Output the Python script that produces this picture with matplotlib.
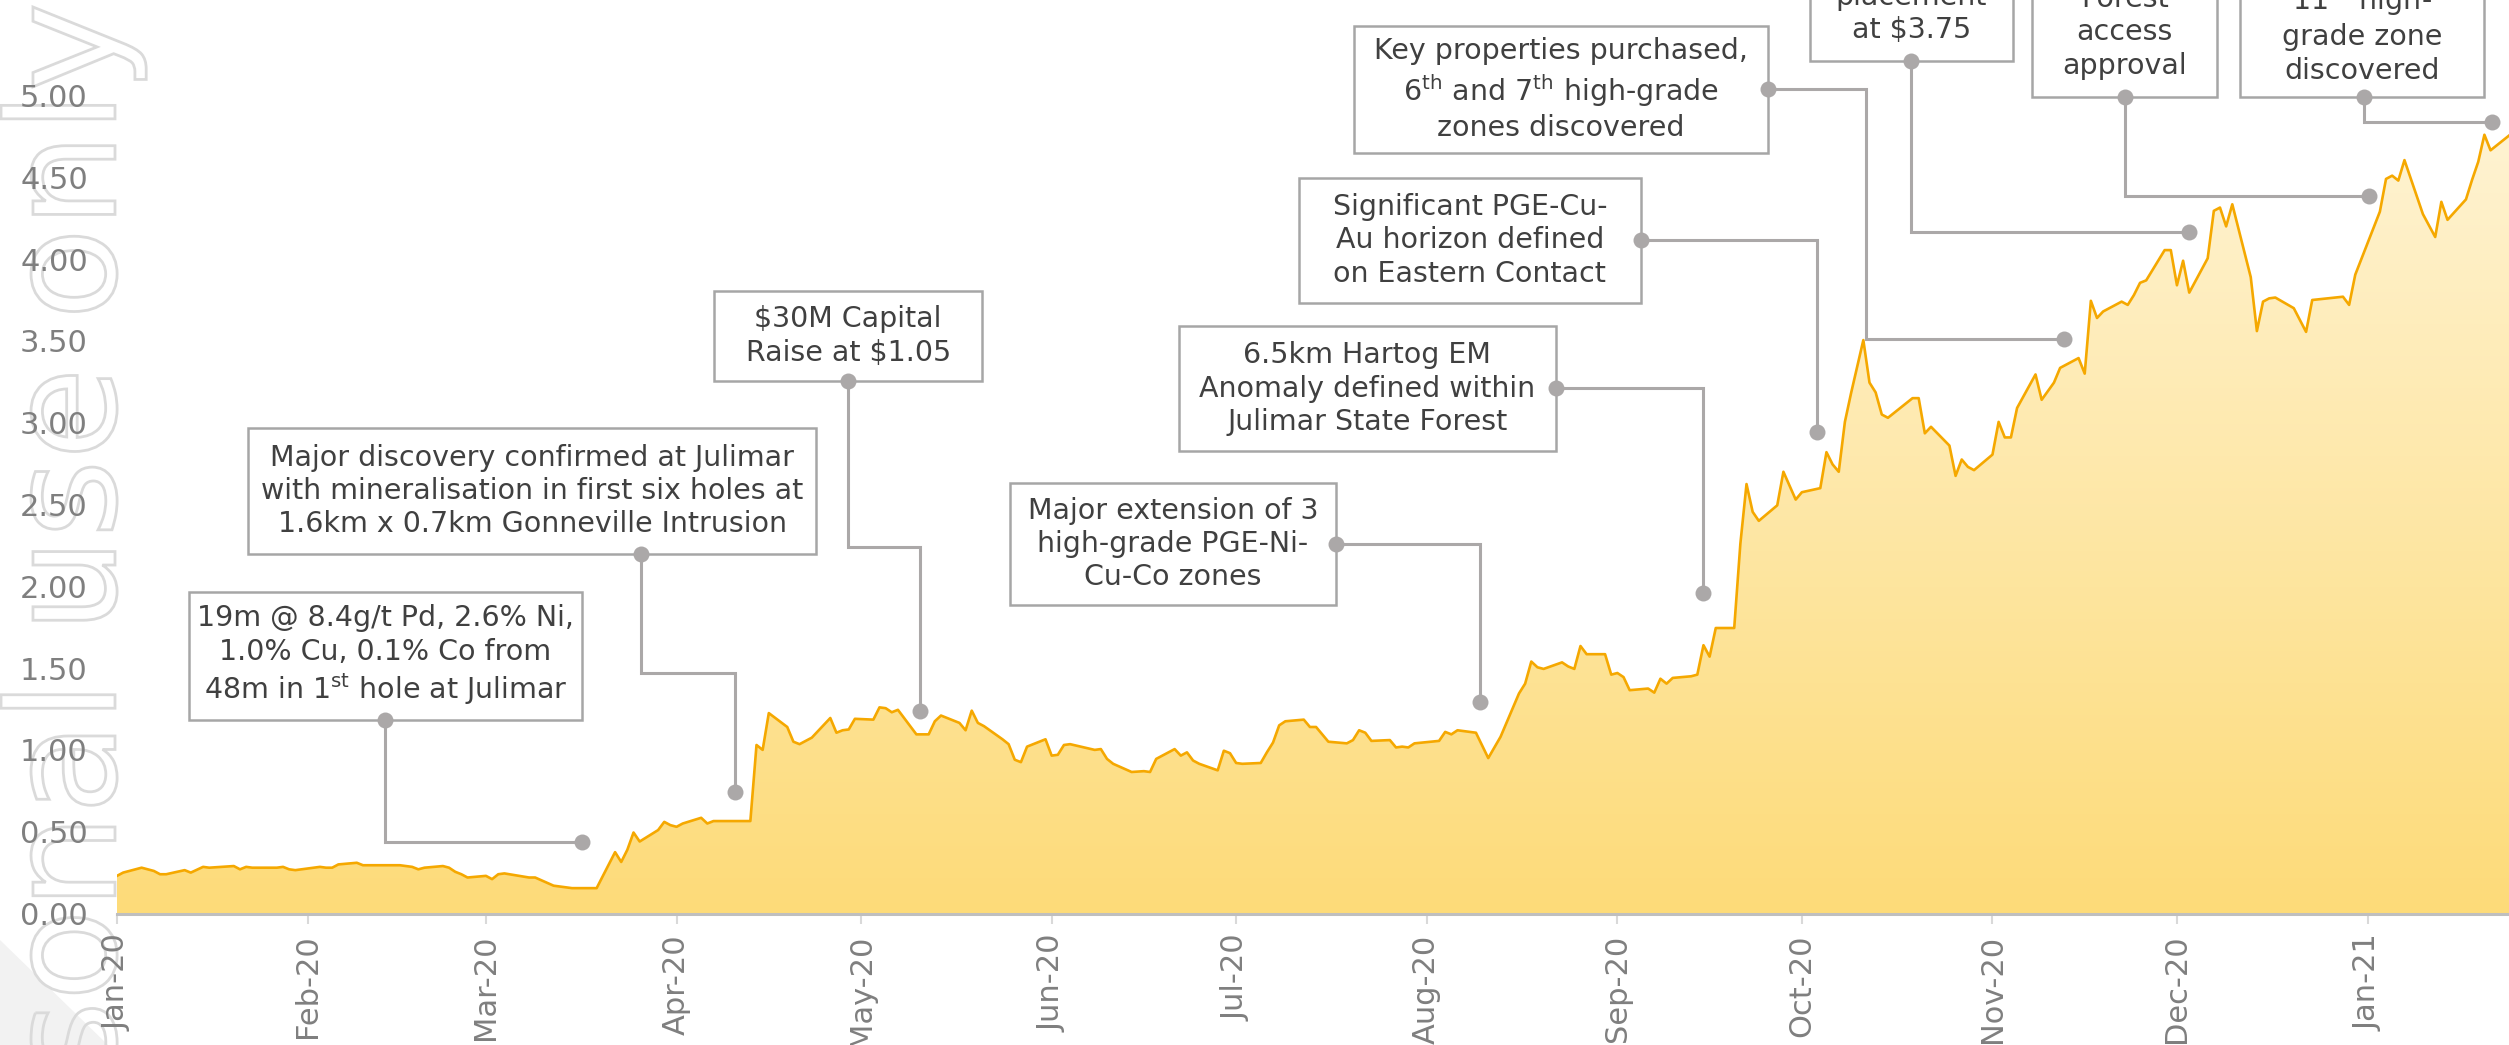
import numpy as np
import pandas as pd
import matplotlib
matplotlib.use("Agg")
import matplotlib.pyplot as plt
import matplotlib.transforms as mtransforms
from matplotlib.colors import LinearSegmentedColormap
from matplotlib.font_manager import FontProperties
from matplotlib.patches import PathPatch, Polygon, Rectangle
from matplotlib.textpath import TextPath

# share price (A$); x = calendar days since 1 Jan 2020
day = [0, 1, 4, 6, 7, 8, 11, 12, 14, 15,
       19, 20, 21, 22, 26, 27, 28, 29, 33, 34,
       35, 36, 39, 40, 46, 48, 49, 50, 53, 54,
       55, 56, 57, 60, 61, 62, 63, 67, 68, 71,
       74, 78, 81, 82, 83, 84, 85, 88, 89, 90,
       91, 92, 95, 96, 97, 103, 104, 105, 106, 109,
       110, 111, 113, 116, 117, 118, 119, 120, 123, 124,
       125, 126, 127, 130, 132, 133, 134, 137, 138, 139,
       140, 141, 144, 145, 146, 147, 148, 151, 152, 153,
       154, 155, 159, 160, 161, 162, 165, 167, 168, 169,
       172, 173, 174, 175, 176, 179, 180, 181, 182, 183,
       186, 187, 188, 189, 190, 193, 194, 195, 197, 200,
       201, 202, 203, 204, 207, 208, 209, 210, 211, 215,
       216, 217, 218, 221, 223, 225, 228, 229, 230, 231,
       232, 235, 236, 237, 238, 239, 242, 243, 244, 245,
       246, 249, 250, 251, 252, 253, 256, 257, 258, 259,
       260, 263, 264, 265, 266, 267, 270, 271, 273, 274,
       277, 278, 279, 280, 281, 282, 284, 285, 286, 287,
       288, 292, 293, 294, 295, 298, 299, 300, 301, 302,
       305, 306, 307, 308, 309, 312, 313, 315, 316, 319,
       320, 321, 322, 323, 326, 327, 328, 329, 330, 333,
       334, 335, 336, 337, 340, 341, 342, 343, 344, 347,
       348, 349, 350, 351, 354, 356, 357, 362, 363, 364,
       368, 369, 370, 371, 372, 375, 377, 378, 379, 382,
       383, 384, 385, 386, 389]
price = [0.23, 0.25, 0.28, 0.26, 0.24, 0.24, 0.265, 0.25, 0.285, 0.28,
         0.29, 0.27, 0.285, 0.28, 0.28, 0.285, 0.27, 0.265, 0.285, 0.28,
         0.28, 0.30, 0.31, 0.295, 0.295, 0.285, 0.27, 0.28, 0.29, 0.28,
         0.255, 0.24, 0.22, 0.23, 0.21, 0.24, 0.245, 0.22, 0.22, 0.17,
         0.155, 0.155, 0.375, 0.315, 0.39, 0.495, 0.44, 0.51, 0.56, 0.54,
         0.53, 0.55, 0.585, 0.55, 0.565, 0.565, 1.03, 1.00, 1.225, 1.14,
         1.05, 1.035, 1.075, 1.195, 1.105, 1.12, 1.125, 1.19, 1.185, 1.26,
         1.255, 1.23, 1.245, 1.095, 1.095, 1.175, 1.21, 1.165, 1.12, 1.24,
         1.165, 1.145, 1.065, 1.035, 0.94, 0.925, 1.02, 1.065, 0.965, 0.97,
         1.03, 1.035, 1.00, 1.005, 0.945, 0.915, 0.865, 0.87, 0.865, 0.945,
         1.005, 0.965, 0.985, 0.935, 0.915, 0.875, 0.995, 0.98, 0.92, 0.915,
         0.92, 0.985, 1.045, 1.15, 1.175, 1.185, 1.14, 1.14, 1.05, 1.04,
         1.06, 1.12, 1.105, 1.055, 1.06, 1.015, 1.02, 1.015, 1.04, 1.055,
         1.11, 1.095, 1.12, 1.105, 0.95, 1.08, 1.345, 1.405, 1.54, 1.505,
         1.495, 1.535, 1.51, 1.495, 1.635, 1.585, 1.585, 1.46, 1.47, 1.445,
         1.365, 1.375, 1.35, 1.435, 1.405, 1.44, 1.45, 1.46, 1.64, 1.57,
         1.745, 1.745, 2.26, 2.625, 2.455, 2.40, 2.495, 2.70, 2.53, 2.575,
         2.60, 2.82, 2.745, 2.70, 3.005, 3.18, 3.505, 3.245, 3.185, 3.05,
         3.03, 3.15, 3.15, 2.935, 2.975, 2.86, 2.675, 2.775, 2.73, 2.71,
         2.805, 3.005, 2.91, 2.91, 3.09, 3.295, 3.14, 3.245, 3.335, 3.395,
         3.30, 3.745, 3.64, 3.68, 3.74, 3.72, 3.78, 3.855, 3.87, 4.055,
         4.055, 3.84, 3.99, 3.795, 4.005, 4.295, 4.315, 4.20, 4.335, 3.89,
         3.56, 3.74, 3.76, 3.765, 3.70, 3.555, 3.75, 3.77, 3.72, 3.905,
         4.29, 4.49, 4.51, 4.48, 4.605, 4.275, 4.135, 4.35, 4.24, 4.365,
         4.485, 4.595, 4.76, 4.665, 4.755]

note_texts = [
    "19m @ 8.4g/t Pd, 2.6% Ni,\n1.0% Cu, 0.1% Co from\n48m in 1$^{\\mathregular{st}}$ hole at Julimar",
    "Major discovery confirmed at Julimar\nwith mineralisation in first six holes at\n1.6km x 0.7km Gonneville Intrusion",
    "\\$30M Capital\nRaise at \\$1.05",
    "Major extension of 3\nhigh-grade PGE-Ni-\nCu-Co zones",
    "6.5km Hartog EM\nAnomaly defined within\nJulimar State Forest",
    "Significant PGE-Cu-\nAu horizon defined\non Eastern Contact",
    "Key properties purchased,\n6$^{\\mathregular{th}}$ and 7$^{\\mathregular{th}}$ high-grade\nzones discovered",
    "\\$130M\nplacement\nat \\$3.75",
    "State\nForest\naccess\napproval",
    "11$^{\\mathregular{th}}$ high-\ngrade zone\ndiscovered",
]

# layout: callout box (x0, x1, y0, y1) and leader route, in (day, price) units
note_boxes = [
    (11.7, 75.6, 1.183, 1.965),
    (21.3, 113.7, 2.197, 2.968),
    (97.1, 140.7, 3.255, 3.805),
    (145.2, 198.2, 1.886, 2.631),
    (172.7, 234.0, 2.827, 3.591),
    (192.2, 247.8, 3.732, 4.496),
    (201.1, 268.5, 4.649, 5.425),
    (275.3, 308.3, 5.213, 5.989),
    (311.5, 341.5, 4.993, 5.983),
    (345.3, 385.0, 4.993, 5.769),
]
note_routes = [
    [(43.6, 1.183), (43.6, 0.437), (75.6, 0.437)],
    [(85.2, 2.197), (85.2, 1.467), (100.5, 1.467), (100.5, 0.743)],
    [(118.9, 3.255), (118.9, 2.240), (130.6, 2.240), (130.6, 1.235)],
    [(198.2, 2.259), (221.6, 2.259), (221.6, 1.290)],
    [(234.0, 3.212), (258.0, 3.212), (258.0, 1.961)],
    [(247.8, 4.117), (276.4, 4.117), (276.4, 2.945)],
    [(268.5, 5.038), (284.5, 5.038), (284.5, 3.510), (316.6, 3.510)],
    [(291.8, 5.213), (291.8, 4.167), (336.9, 4.167)],
    [(326.5, 4.993), (326.5, 4.386), (366.2, 4.386)],
    [(365.4, 4.993), (365.4, 4.836), (386.3, 4.836)],
]

W, H, DPI = 2509, 1045, 100
GREY_TXT = "#7F7F7F"
LEADER = "#ABA8A8"

fig = plt.figure(figsize=(W / DPI, H / DPI), dpi=DPI)

# faint corner shape and outlined watermark behind the chart
fig.add_artist(Polygon([[0, 0], [0, 105 / H], [108 / W, 0]], closed=True,
                       transform=fig.transFigure, facecolor="#F2F2F2",
                       edgecolor="none", zorder=-3))
tp = TextPath((0, 0), "For personal use only", size=150,
              prop=FontProperties(family="DejaVu Sans"))
ext = tp.get_extents()
rot = mtransforms.Affine2D().rotate_deg(90).translate(115, H - 7 - ext.x1)
fig.add_artist(PathPatch(rot.transform_path(tp), facecolor="none",
                         edgecolor="#DADADA", lw=2.0,
                         transform=mtransforms.IdentityTransform(), zorder=-2))

ax = fig.add_axes([117 / W, (H - 913.5) / H, 1 - 117 / W, 913.5 / H])
ax.set_facecolor("none")

# gradient area under the price line
area = ax.fill_between(day, price, 0, facecolor="none", edgecolor="none")
cmap = LinearSegmentedColormap.from_list("gold", ["#FDDB79", "#FFF4D6"])
grad = np.linspace(0, 1, 256).reshape(-1, 1)
im = ax.imshow(grad, extent=[0, 389, 0, 5.0], origin="lower", aspect="auto",
               cmap=cmap, zorder=1)
im.set_clip_path(area.get_paths()[0], transform=ax.transData)
ax.plot(day, price, color="#F5A800", lw=1.9, zorder=3)

ax.set_xlim(0, 389)
ax.set_ylim(0, 913.5 / 163.6)

# callouts
for txt, (x0, x1, y0, y1), route in zip(note_texts, note_boxes, note_routes):
    rx, ry = zip(*route)
    ax.plot(rx, ry, color=LEADER, lw=2.2, clip_on=False, zorder=4,
            solid_joinstyle="miter")
    ax.add_patch(Rectangle((x0, y0), x1 - x0, y1 - y0, facecolor="white",
                           edgecolor="#A6A6A6", lw=1.8, clip_on=False,
                           zorder=5))
    ax.text((x0 + x1) / 2, (y0 + y1) / 2, txt, ha="center", va="center",
            multialignment="center", fontsize=20.5, color="#404040",
            linespacing=1.24, zorder=6, clip_on=False)
    ax.plot([rx[0], rx[-1]], [ry[0], ry[-1]], "o", color=LEADER, ms=11.5,
            mec="none", clip_on=False, zorder=7)

# axes styling
months = pd.date_range("2020-01-01", "2021-01-01", freq="MS")
ax.set_xticks((months - pd.Timestamp("2020-01-01")).days)
ax.set_xticklabels(months.strftime("%b-%y"), rotation=90)
ax.tick_params(axis="x", length=7.2, width=1.5, color="#D9D9D9", pad=8,
               labelsize=22, labelcolor=GREY_TXT)
ax.set_yticks(np.arange(0, 5.01, 0.5))
ax.yaxis.set_major_formatter(lambda v, pos: f"{v:.2f}")
ax.tick_params(axis="y", length=0, pad=21, labelsize=22, labelcolor=GREY_TXT)
for side in ("left", "right", "top"):
    ax.spines[side].set_visible(False)
ax.spines["bottom"].set_color("#BFBFBF")
ax.spines["bottom"].set_linewidth(2.2)
ax.spines["bottom"].set_zorder(4)

fig.savefig("out.png", dpi=DPI)
